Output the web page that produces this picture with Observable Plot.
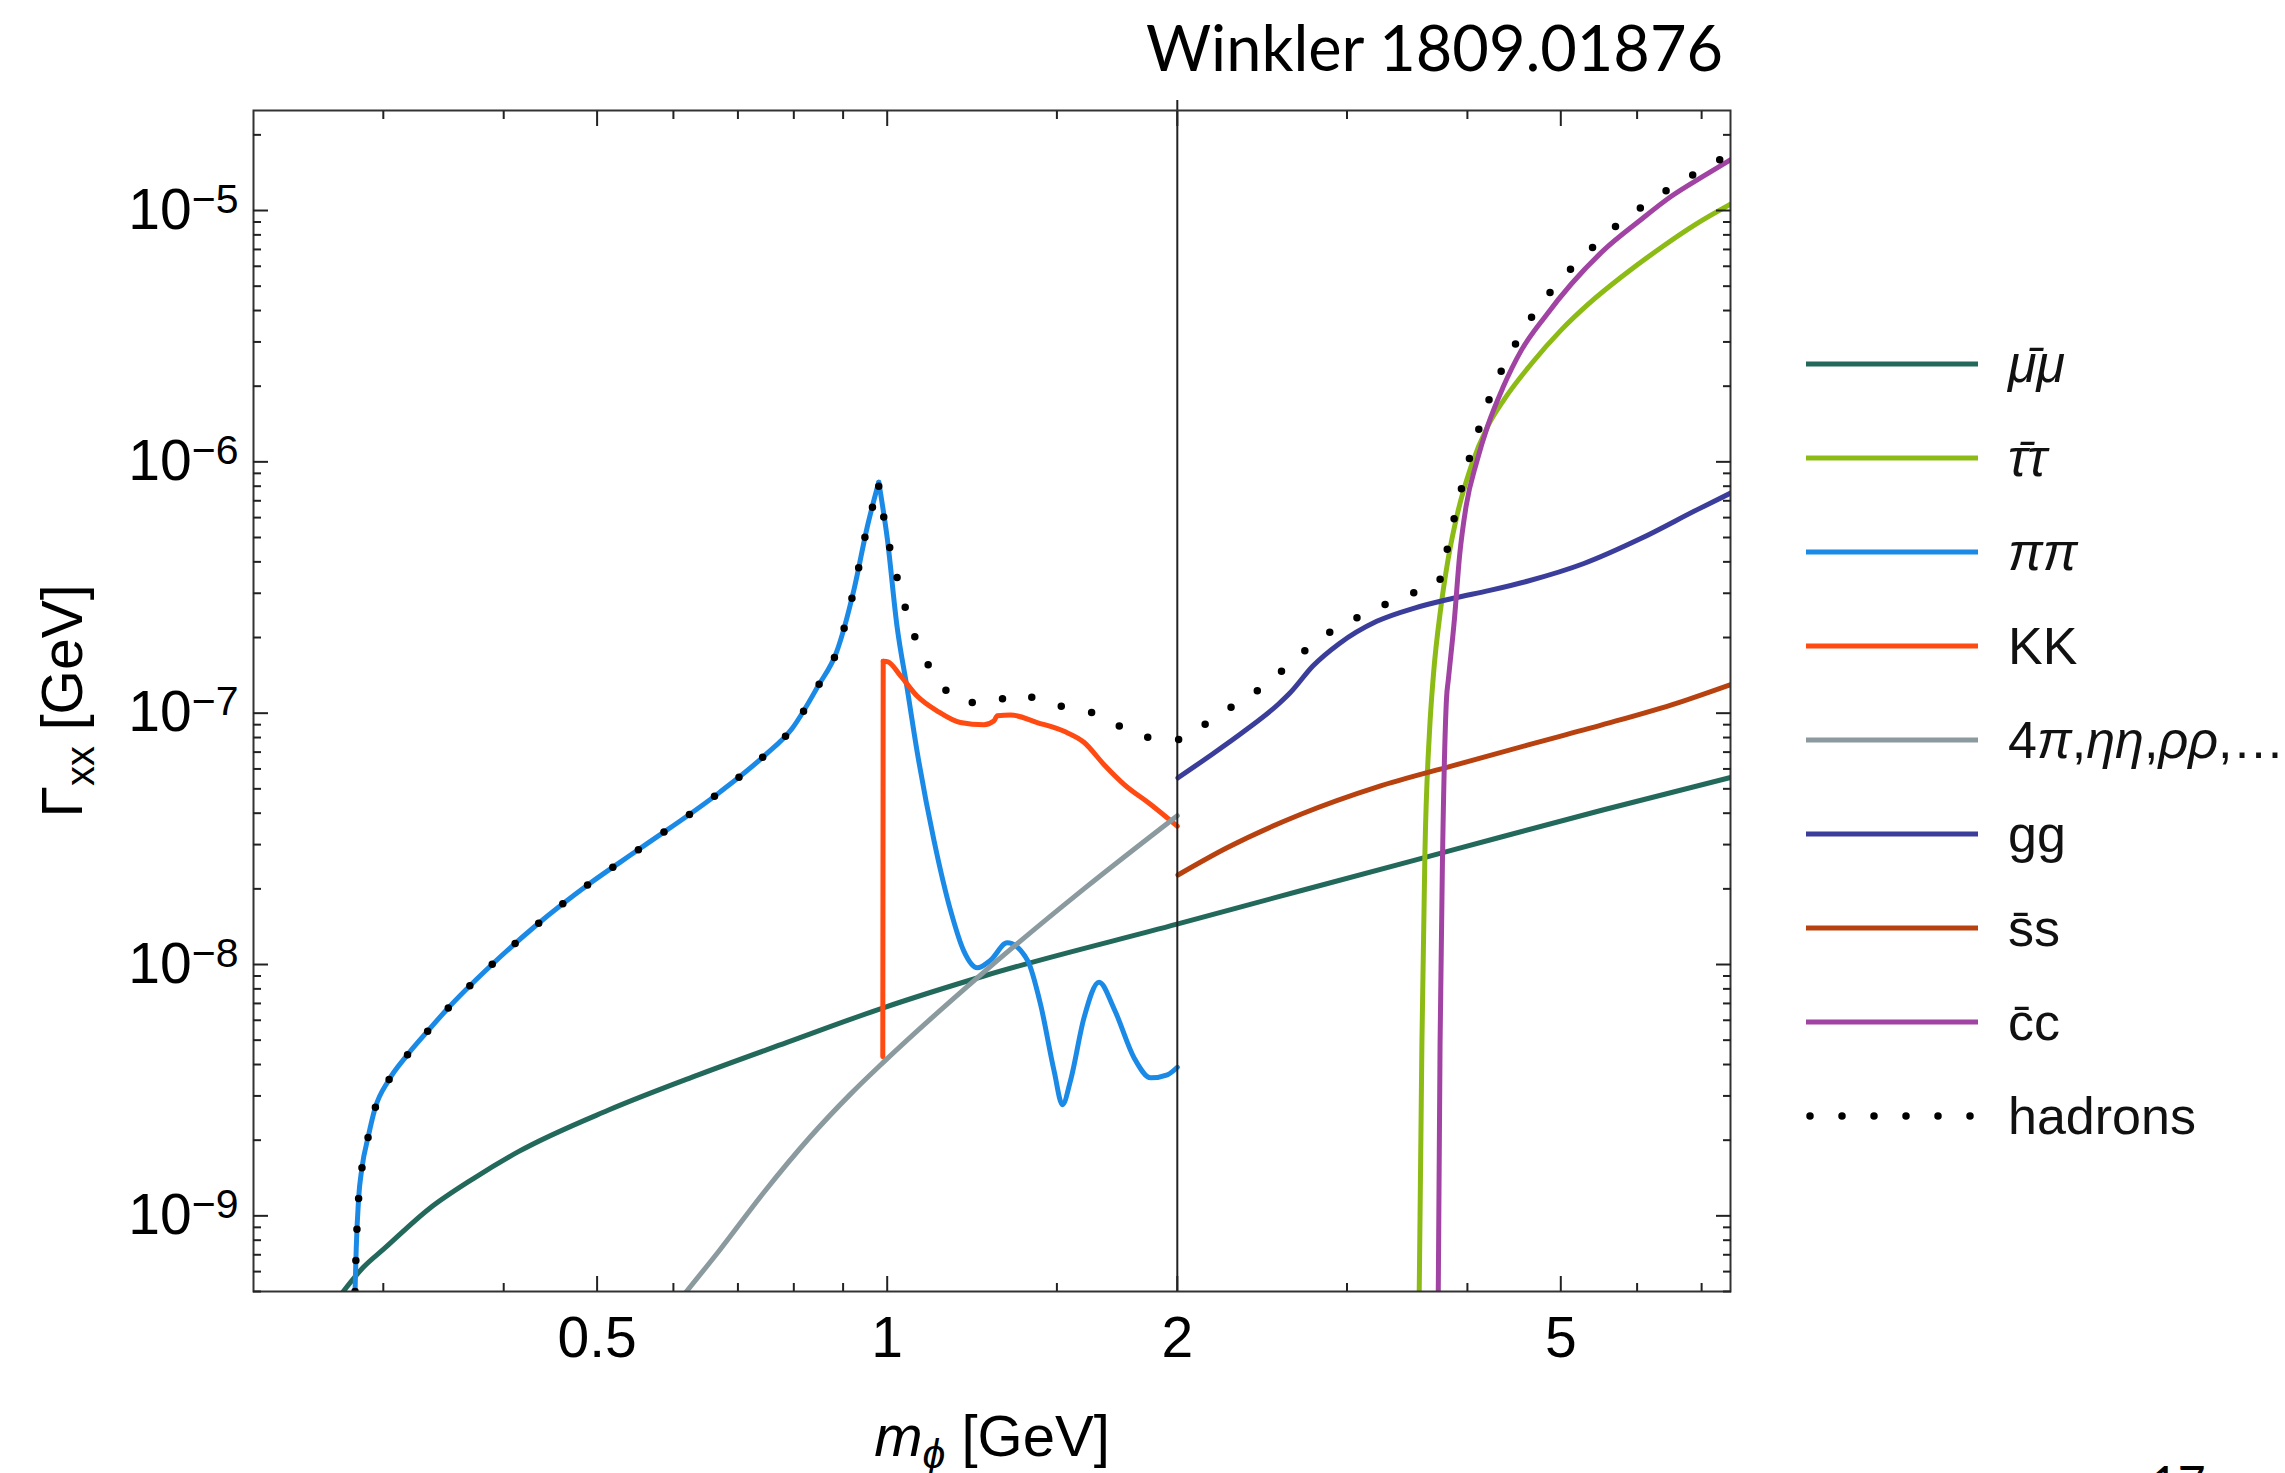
<!DOCTYPE html>
<html>
<head>
<meta charset="utf-8">
<script src="https://cdn.jsdelivr.net/npm/d3@7"></script>
<script src="https://cdn.jsdelivr.net/npm/@observablehq/plot@0.6"></script>
<style>
  html, body { margin: 0; padding: 0; background: #fff; }
  body { width: 2285px; height: 1473px; overflow: hidden; position: relative; }
  #chart { position: absolute; left: 0; top: 0; }
  #title { position: absolute; left: 0; top: 15px; width: 1723px; text-align: right;
           font-family: Lato, "Open Sans", sans-serif; font-size: 63px; line-height: 1; color: #000; white-space: nowrap; }
  .row { position: absolute; left: 1806px; height: 52px; display: flex; align-items: center; white-space: nowrap;
         font-family: "Liberation Sans", Arial, sans-serif; font-size: 52px; line-height: 52px; color: #111; }
  .row svg { flex: none; display: block; }
  .row .lab { margin-left: 30px; }
  #page { position: absolute; left: 2150px; top: 1459px; font-family: Lato, sans-serif; font-size: 48px; line-height: 1; color: #000; }
</style>
</head>
<body>
<div id="chart"></div>
<div id="title">Winkler 1809.01876</div>
<div id="legend"></div>
<div id="page">17</div>
<script>
// ---------------- data ----------------
const xDomain = [0.22, 7.5];
const yDomain = [5e-10, 2.5e-5];

const xMajor = [0.5, 1, 2, 5];
const xMinor = [0.3, 0.4, 0.6, 0.7, 0.8, 0.9, 1.5, 3, 4, 6, 7];
const yMajor = [1e-9, 1e-8, 1e-7, 1e-6, 1e-5];
const yDecades = [1e-10, 1e-9, 1e-8, 1e-7, 1e-6, 1e-5];
const yMinorFactors = [2, 3, 4, 5, 6, 7, 8, 9];

const splitMass = [2];

const mumuM = [0.2726, 0.286, 0.3006, 0.335, 0.3724, 0.4143, 0.5132, 0.6357, 0.7872, 0.9856, 1.26, 2.003, 2.691, 3.857, 5.527, 7.505];
const mumuG = [5.0e-10, 6.24e-10, 7.4e-10, 1.07e-9, 1.41e-9, 1.80e-9, 2.63e-9, 3.63e-9, 4.9e-9, 6.68e-9, 9.0e-9, 1.45e-8, 1.97e-8, 2.85e-8, 4.12e-8, 5.55e-8];

const tautauM = [3.565, 3.588, 3.614, 3.654, 3.687, 3.755, 3.82, 3.909, 4.036, 4.201, 4.371, 4.658, 5.006, 5.35, 5.80, 6.34, 6.90, 7.50];
const tautauG = [5.0e-10, 4.9e-9, 2.8e-8, 8.5e-8, 1.4e-7, 2.65e-7, 4.1e-7, 6.3e-7, 9.6e-7, 1.39e-6, 1.78e-6, 2.45e-6, 3.35e-6, 4.27e-6, 5.5e-6, 7.08e-6, 8.81e-6, 1.06e-5];

const pipiM = [0.2804, 0.2812, 0.2828, 0.285, 0.2895, 0.294, 0.304, 0.317, 0.3345, 0.349, 0.389, 0.432, 0.492, 0.553, 0.670, 0.746, 0.796, 0.848, 0.886, 0.924, 0.954, 0.980,
               1.0, 1.024, 1.049, 1.074, 1.118, 1.164, 1.201, 1.240, 1.280, 1.332, 1.398, 1.443, 1.490, 1.520, 1.550, 1.600, 1.659, 1.720, 1.804, 1.877, 1.953, 2.0];
const pipiG = [5.0e-10, 7.4e-10, 1.17e-9, 1.54e-9, 2.08e-9, 2.66e-9, 3.47e-9, 4.32e-9, 5.5e-9, 6.61e-9, 1.0e-8, 1.43e-8, 2.11e-8, 2.88e-8, 4.84e-8, 6.78e-8, 8.65e-8, 1.285e-7, 1.75e-7, 3.12e-7, 5.56e-7, 8.3e-7,
               4.98e-7, 2.20e-7, 1.25e-7, 7.05e-8, 3.13e-8, 1.63e-8, 1.13e-8, 9.7e-9, 1.04e-8, 1.22e-8, 1.04e-8, 6.9e-9, 3.77e-9, 2.77e-9, 3.47e-9, 6.12e-9, 8.5e-9, 6.65e-9, 4.25e-9, 3.54e-9, 3.64e-9, 3.9e-9];

const kkM = [0.9895, 0.9905, 1.002, 1.032, 1.074, 1.127, 1.191, 1.260, 1.290, 1.301, 1.343, 1.431, 1.526, 1.600, 1.679, 1.762, 1.877, 2.0];
const kkG = [4.3e-9, 1.61e-7, 1.60e-7, 1.41e-7, 1.17e-7, 1.02e-7, 9.18e-8, 8.99e-8, 9.3e-8, 9.77e-8, 9.84e-8, 9.18e-8, 8.47e-8, 7.66e-8, 6.24e-8, 5.2e-8, 4.33e-8, 3.55e-8];

const multiM = [0.619, 0.670, 0.746, 0.830, 0.916, 0.990, 1.240, 1.600, 2.0];
const multiG = [5.0e-10, 7.3e-10, 1.25e-9, 2.04e-9, 3.05e-9, 4.07e-9, 8.85e-9, 2.0e-8, 3.91e-8];

const ggM = [2.003, 2.148, 2.350, 2.549, 2.619, 2.765, 2.944, 3.221, 3.525, 3.857, 4.219, 4.615, 5.284, 6.045, 6.92, 7.505];
const ggG = [5.53e-8, 6.65e-8, 8.51e-8, 1.09e-7, 1.205e-7, 1.54e-7, 1.89e-7, 2.32e-7, 2.62e-7, 2.86e-7, 3.08e-7, 3.35e-7, 3.94e-7, 4.94e-7, 6.44e-7, 7.52e-7];

const ssM = [2.003, 2.247, 2.691, 3.221, 3.857, 4.615, 5.527, 6.614, 7.505];
const ssG = [2.27e-8, 2.9e-8, 3.97e-8, 5.08e-8, 6.17e-8, 7.46e-8, 9.0e-8, 1.10e-7, 1.30e-7];

const ccM = [3.731, 3.747, 3.771, 3.805, 3.822, 3.878, 3.926, 3.988, 4.09, 4.201, 4.353, 4.548, 4.82, 5.127, 5.552, 6.012, 6.511, 7.051, 7.516];
const ccG = [5.0e-10, 4.85e-9, 3.0e-8, 1.14e-7, 1.36e-7, 2.37e-7, 4.23e-7, 6.68e-7, 1.0e-6, 1.40e-6, 1.97e-6, 2.77e-6, 3.8e-6, 5.1e-6, 7.0e-6, 9.0e-6, 1.14e-5, 1.38e-5, 1.6e-5];

const hadronsM = [0.2804, 0.2812, 0.2828, 0.285, 0.2895, 0.294, 0.304, 0.317, 0.3345, 0.349, 0.389, 0.432, 0.492, 0.553, 0.670, 0.746, 0.796, 0.848, 0.886, 0.924, 0.954, 0.980,
                  1.0, 1.016, 1.036, 1.057, 1.087, 1.131, 1.191, 1.280, 1.365, 1.466, 1.575, 1.687, 1.796, 1.929, 2.003, 2.139, 2.274, 2.422, 2.572, 2.740, 2.909, 3.101, 3.318, 3.556,
                  3.727, 3.802, 3.863, 3.931, 4.004, 4.095, 4.194, 4.312, 4.459, 4.628, 4.836, 5.074, 5.348, 5.650, 5.987, 6.368, 6.776, 7.235, 7.5];
const hadronsG = [5.0e-10, 7.4e-10, 1.17e-9, 1.54e-9, 2.08e-9, 2.66e-9, 3.47e-9, 4.32e-9, 5.5e-9, 6.61e-9, 1.0e-8, 1.43e-8, 2.11e-8, 2.88e-8, 4.84e-8, 6.78e-8, 8.65e-8, 1.285e-7, 1.75e-7, 3.12e-7, 5.56e-7, 8.0e-7,
                  5.08e-7, 3.9e-7, 2.93e-7, 2.25e-7, 1.73e-7, 1.35e-7, 1.11e-7, 1.10e-7, 1.20e-7, 1.09e-7, 1.04e-7, 9.6e-8, 8.3e-8, 7.9e-8, 7.85e-8, 9.06e-8, 1.057e-7, 1.23e-7, 1.48e-7, 1.83e-7, 2.15e-7, 2.44e-7, 2.75e-7, 3.06e-7,
                  3.27e-7, 4.3e-7, 5.65e-7, 7.45e-7, 9.8e-7, 1.29e-6, 1.69e-6, 2.19e-6, 2.82e-6, 3.6e-6, 4.55e-6, 5.64e-6, 6.9e-6, 8.4e-6, 9.95e-6, 1.17e-5, 1.35e-5, 1.56e-5, 1.67e-5];

const seriesKeys = ["mumu", "tautau", "pipi", "KK", "multi", "gg", "ss", "cc"];
const seriesM = [mumuM, tautauM, pipiM, kkM, multiM, ggM, ssM, ccM];
const seriesG = [mumuG, tautauG, pipiG, kkG, multiG, ggG, ssG, ccG];

const legendLabels = [
  "<i>\u03bc\u0304\u03bc</i>",
  "<i>\u03c4\u0304\u03c4</i>",
  "<i>\u03c0\u03c0</i>",
  "KK",
  "4<i>\u03c0</i>,<i>\u03b7\u03b7</i>,<i>\u03c1\u03c1</i>,\u2026",
  "gg",
  "s\u0304s",
  "c\u0304c",
  "hadrons"
];
const xLabel = ["m\u03d5 [GeV]"];
const yLabel = ["\u0393xx [GeV]"];

// ---------------- styles ----------------
const seriesColors = {
  mumu: "#23695b", tautau: "#8dbb16", pipi: "#1a8ae6", KK: "#ff4a12",
  multi: "#8b9a9f", gg: "#3b3d9b", ss: "#b8420f", cc: "#a143a3"
};
const splitAtPeak = { pipi: true, KK: true };
const font = '"Liberation Sans", Arial, Helvetica, sans-serif';
const tickColor = "#222";
const lineWidth = 5;

// ---------------- build tables ----------------
// a curve may be cut in two at its highest point so the sharp peak stays sharp under monotone-x
function curveRows(M, G, key, splitIndex) {
  const rows = [];
  M.forEach((m, i) => {
    if (splitIndex == null) rows.push({ key, seg: "a", m, G: G[i] });
    else {
      if (i <= splitIndex) rows.push({ key, seg: "a", m, G: G[i] });
      if (i >= splitIndex) rows.push({ key, seg: "b", m, G: G[i] });
    }
  });
  return rows;
}
const tables = seriesKeys.map((key, s) =>
  curveRows(seriesM[s], seriesG[s], key, splitAtPeak[key] ? d3.maxIndex(seriesG[s]) : null));
const hadronPeak = d3.maxIndex(hadronsG, (g, i) => (hadronsM[i] < 2 ? g : -Infinity));
const hadronRows = curveRows(hadronsM, hadronsG, "hadrons", hadronPeak);
const yMinor = yDecades.flatMap(d => yMinorFactors.map(f => f * d))
  .filter(v => v >= yDomain[0] && v <= yDomain[1]);

const tickAxis = (fn, ticks, anchor, size, shift) =>
  fn({ ticks, anchor, tickSize: size, ...(fn === Plot.axisX ? { dy: shift } : { dx: shift }),
       fill: "none", stroke: tickColor, strokeWidth: 2, label: null });

const chart = Plot.plot({
  width: 1760,
  height: 1473,
  marginLeft: 253,
  marginRight: 30,
  marginTop: 110,
  marginBottom: 182,
  style: { fontFamily: font, background: "transparent", color: "#000", overflow: "visible" },
  x: { type: "log", domain: xDomain },
  y: { type: "log", domain: yDomain },
  marks: [
    ...tables.map((rows, s) => Plot.line(rows, {
      x: "m", y: "G", z: "seg", stroke: seriesColors[seriesKeys[s]], strokeWidth: lineWidth,
      curve: "monotone-x", clip: true
    })),
    Plot.ruleX(splitMass, { stroke: "#222", strokeWidth: 2, insetTop: -10 }),
    Plot.line(hadronRows, {
      x: "m", y: "G", z: "seg", stroke: "#000", strokeWidth: 7.5, strokeDasharray: "0 31",
      strokeLinecap: "round", curve: "monotone-x", clip: true
    }),
    Plot.frame({ stroke: "#333", strokeWidth: 2 }),
    tickAxis(Plot.axisX, xMajor, "bottom", 15, -15),
    tickAxis(Plot.axisX, xMinor, "bottom", 8, -8),
    tickAxis(Plot.axisX, xMajor, "top", 15, 15),
    tickAxis(Plot.axisX, xMinor, "top", 8, 8),
    tickAxis(Plot.axisY, yMajor, "left", 15, 15),
    tickAxis(Plot.axisY, yMinor, "left", 8, 8),
    tickAxis(Plot.axisY, yMajor, "right", 15, -15),
    tickAxis(Plot.axisY, yMinor, "right", 8, -8),
    Plot.axisX({ ticks: xMajor, anchor: "bottom", tickSize: 0, tickPadding: 25, tickFormat: d => String(d),
                 fontSize: 57, fontFamily: font, fill: "#000", label: null }),
    Plot.axisY({ ticks: yMajor, anchor: "left", tickSize: 0, tickPadding: 15,
                 tickFormat: d => "10^" + Math.round(Math.log10(d)),
                 fontSize: 57, fontFamily: font, fill: "#000", label: null }),
    Plot.text(xLabel, { frameAnchor: "bottom", dy: 164, lineAnchor: "bottom", textAnchor: "middle", text: d => d,
                        fontSize: 58, fontFamily: font, fill: "#000" }),
    Plot.text(yLabel, { frameAnchor: "left", dx: -172, rotate: -90, lineAnchor: "bottom", textAnchor: "middle", text: d => d,
                        fontSize: 57, fontFamily: font, fill: "#000" })
  ]
});

// ---------- rich text (superscripts / subscripts) ----------
const NS = "http://www.w3.org/2000/svg";
function tspan(parent, text, attrs) {
  const t = document.createElementNS(NS, "tspan");
  for (const k in attrs) t.setAttribute(k, attrs[k]);
  t.textContent = text;
  parent.appendChild(t);
}
chart.querySelectorAll("text").forEach(t => {
  const txt = t.textContent;
  const m = /^10\^(-?\d+)$/.exec(txt);
  if (m) {
    t.textContent = "10";
    const e = +m[1];
    tspan(t, (e < 0 ? "\u2212" : "") + Math.abs(e), { dy: "-16", "font-size": "41" });
  } else if (txt === xLabel[0]) {
    t.textContent = "";
    tspan(t, "m", { "font-style": "italic" });
    tspan(t, "\u03d5", { "font-style": "italic", "font-size": "41", dy: "12" });
    tspan(t, " [GeV]", { dy: "-12" });
  } else if (txt === yLabel[0]) {
    t.textContent = "";
    tspan(t, "\u0393", {});
    tspan(t, "xx", { "font-size": "40", dy: "12" });
    tspan(t, " [GeV]", { dy: "-12" });
  }
});
document.getElementById("chart").appendChild(chart);

// ---------------- legend ----------------
const legend = document.getElementById("legend");
const legendTop = 364, legendStep = 94;
const legendKeys = [...seriesKeys, "hadrons"];
legendKeys.forEach((key, i) => {
  const row = document.createElement("div");
  row.className = "row";
  row.style.top = (legendTop + i * legendStep - 26) + "px";
  const svg = d3.create("svg").attr("width", 172).attr("height", 52);
  if (key === "hadrons") {
    svg.append("line").attr("x1", 4).attr("x2", 170).attr("y1", 26).attr("y2", 26)
      .attr("stroke", "#000").attr("stroke-width", 7.5).attr("stroke-linecap", "round")
      .attr("stroke-dasharray", "0 32");
  } else {
    svg.append("line").attr("x1", 0).attr("x2", 172).attr("y1", 26).attr("y2", 26)
      .attr("stroke", seriesColors[key]).attr("stroke-width", lineWidth);
  }
  row.appendChild(svg.node());
  const lab = document.createElement("span");
  lab.className = "lab";
  lab.innerHTML = legendLabels[i];
  row.appendChild(lab);
  legend.appendChild(row);
});
</script>
</body>
</html>
